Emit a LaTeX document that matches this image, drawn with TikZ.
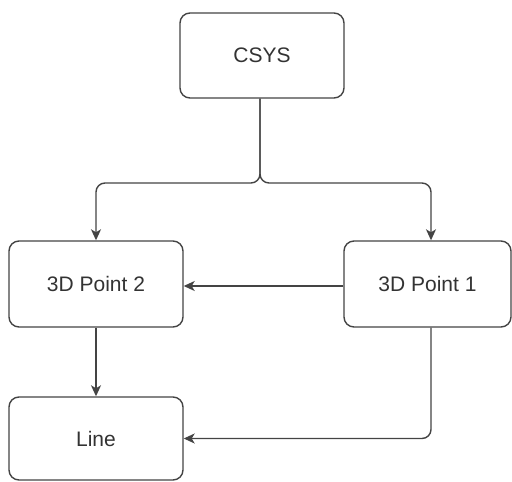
\documentclass[tikz,border=0pt]{standalone}
\usepackage{fontspec}
\setmainfont{Liberation Sans}
\usetikzlibrary{arrows.meta}
\definecolor{edgegray}{HTML}{444444}
\definecolor{textgray}{HTML}{333333}
\begin{document}
\begin{tikzpicture}[x=1pt,y=-1pt,
  box/.style={draw=edgegray, line width=1.4pt, rounded corners=10pt, inner sep=0pt,
    text=textgray, font=\fontsize{21}{25}\selectfont},
  conn/.style={draw=edgegray, line width=1.4pt, -{Stealth[length=11pt,width=10pt,inset=3pt]}},
]
\useasboundingbox (0,0) rectangle (512,482);
\node[box, minimum width=164pt, minimum height=85pt] (csys) at (262,55.5) {CSYS};
\node[box, minimum width=174pt, minimum height=86pt] (p2) at (96,284) {3D Point 2};
\node[box, minimum width=167pt, minimum height=86pt] (p1) at (427.5,284) {3D Point 1};
\node[box, minimum width=174pt, minimum height=83pt] (line) at (96,438.5) {Line};
\coordinate (split) at (260,183);
\draw[conn, rounded corners=9pt] ([xshift=-2pt]csys.south) -- (split) -| (p2.north);
\draw[conn, rounded corners=9pt] ([xshift=-2pt]csys.south) -- (split) -| ([xshift=3.5pt]p1.north);
\draw[conn] ([yshift=-2pt]p1.west) -- ([yshift=-2pt]p2.east);
\draw[conn] (p2.south) -- (line.north);
\draw[conn, rounded corners=9pt] ([xshift=3.5pt]p1.south) |- (line.east);
\end{tikzpicture}
\end{document}
